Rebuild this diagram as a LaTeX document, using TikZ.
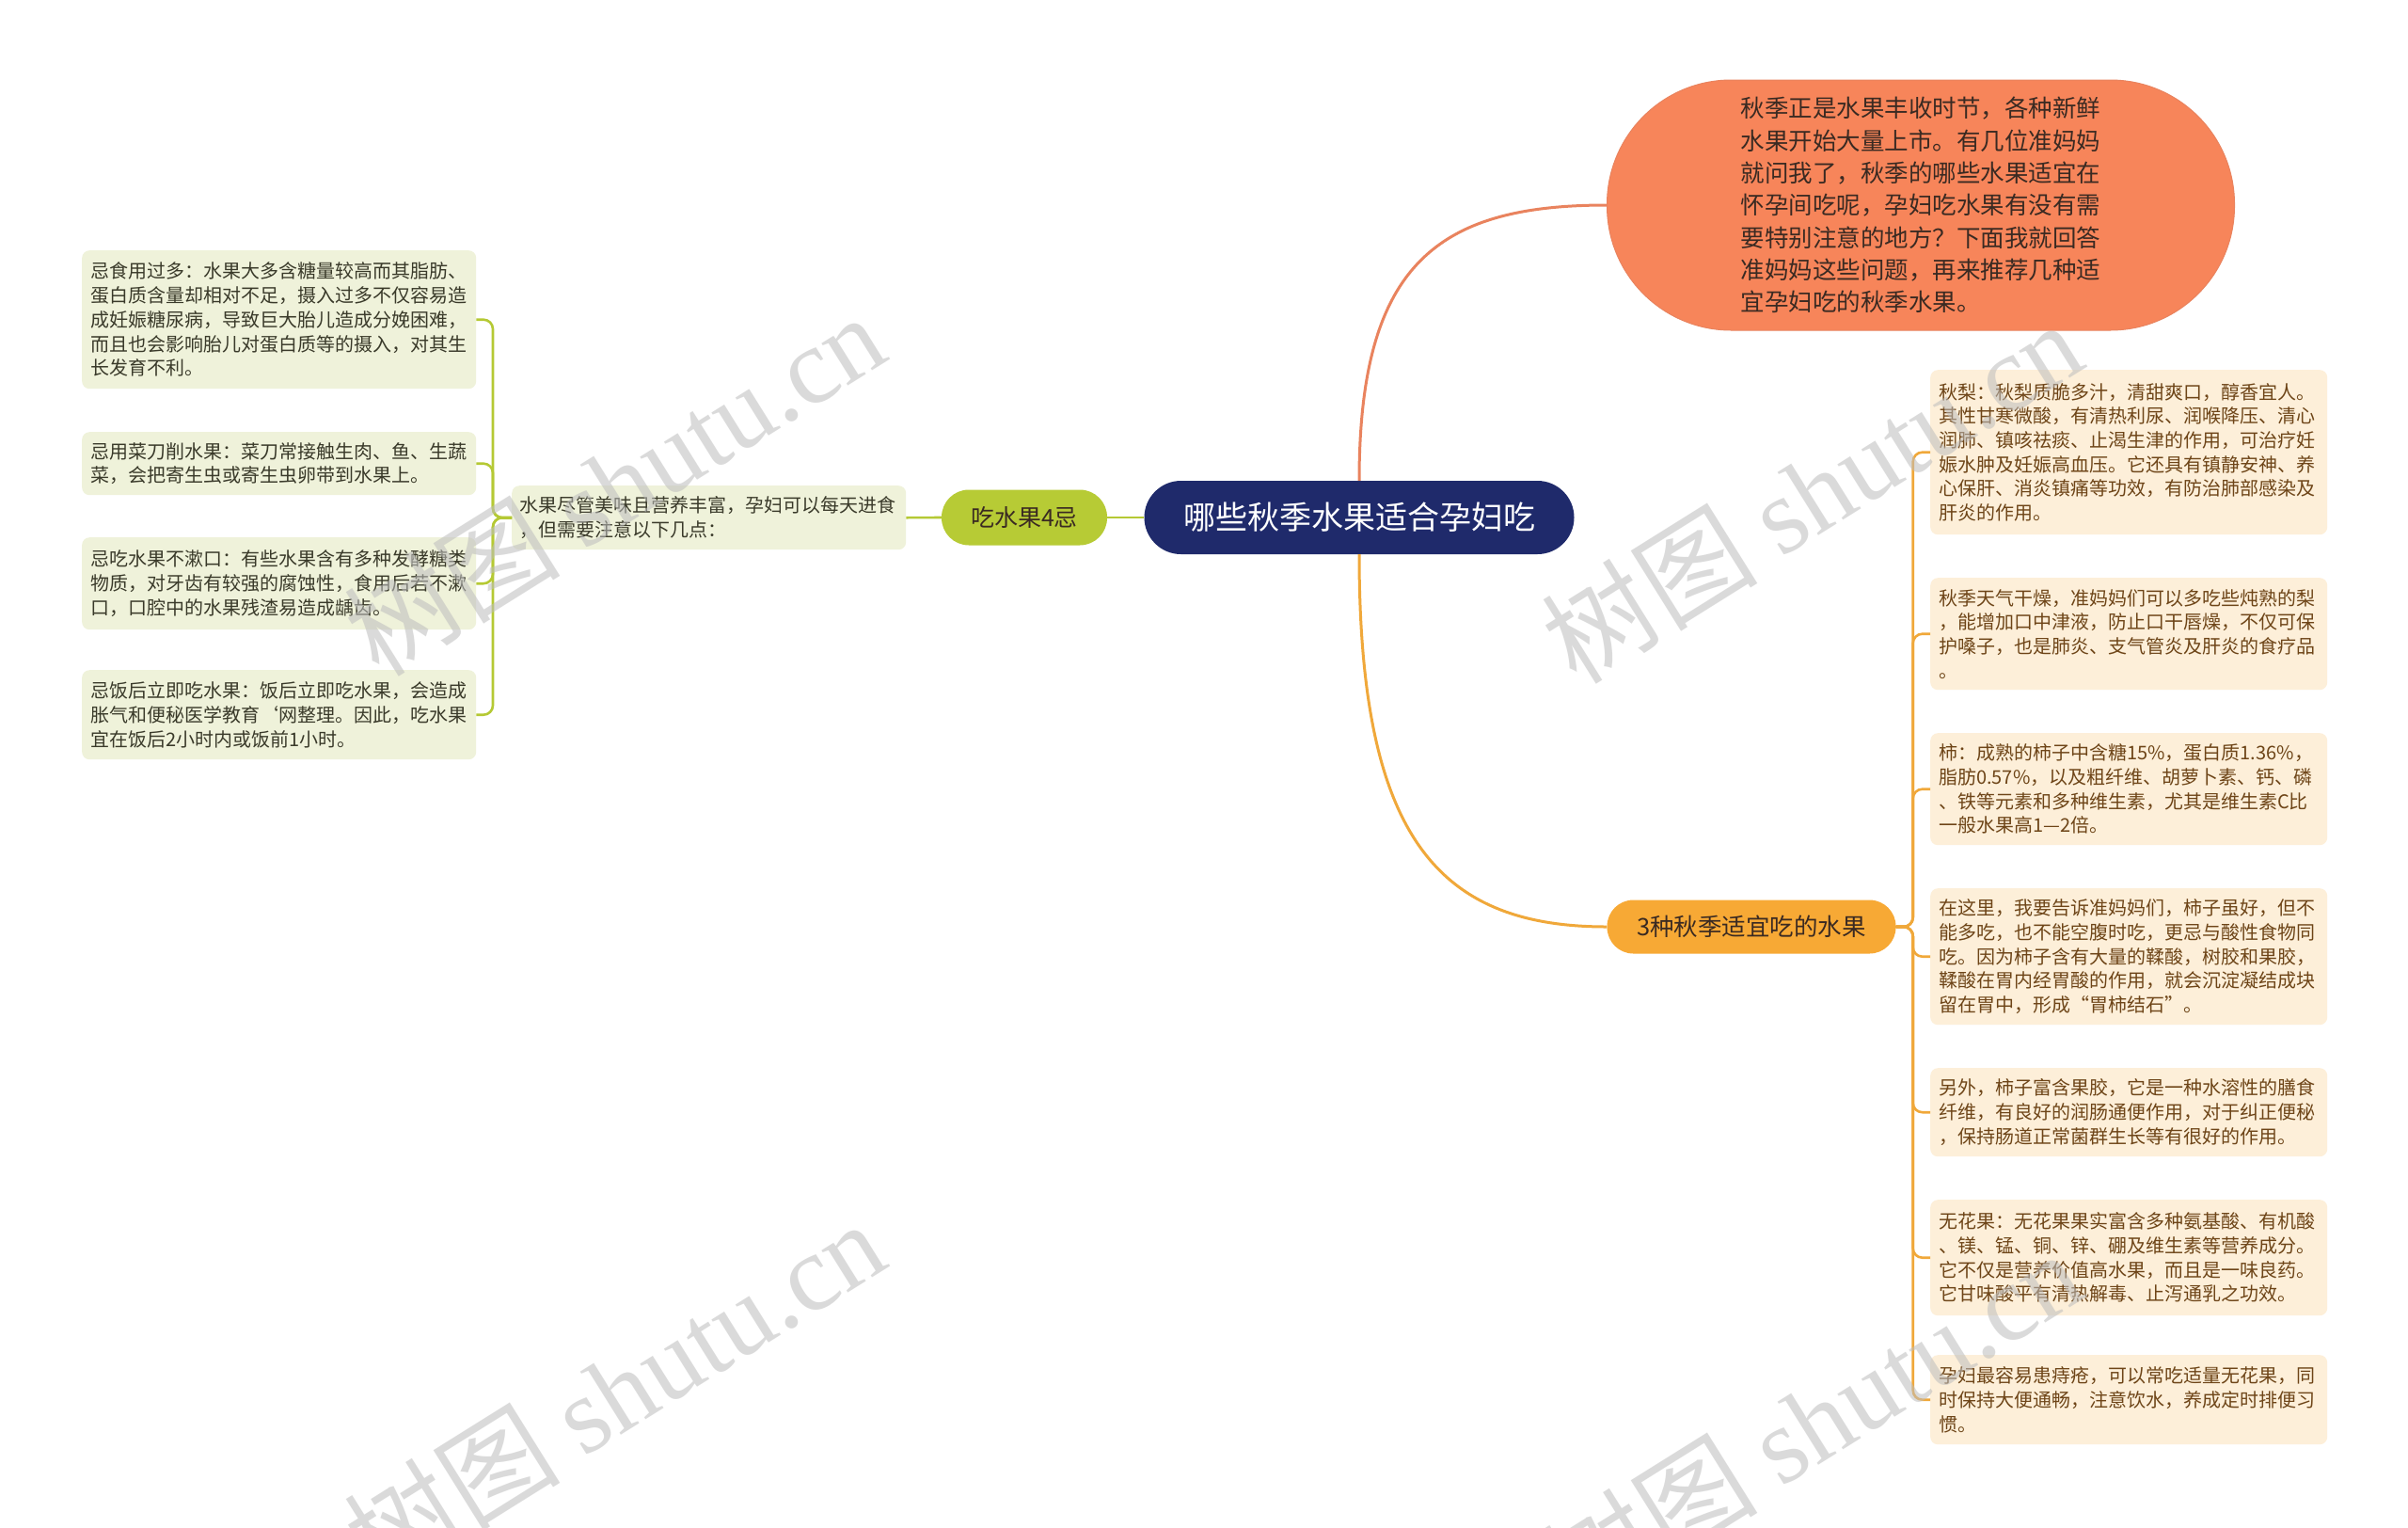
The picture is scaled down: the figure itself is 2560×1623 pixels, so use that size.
\documentclass[tikz,border=0pt]{standalone}
\usepackage{fontspec}
\setmainfont{Noto Sans CJK SC}
\newfontfamily\wmlatin{Liberation Serif}
\definecolor{navy}{HTML}{1F2A6B}
\definecolor{topfill}{HTML}{F7855A}
\definecolor{topline}{HTML}{E9835E}
\definecolor{greenfill}{HTML}{B7CB35}
\definecolor{greenline}{HTML}{B5C934}
\definecolor{amberfill}{HTML}{F7A935}
\definecolor{amberline}{HTML}{F0A83A}
\definecolor{lfill}{HTML}{EFF2DA}
\definecolor{ltext}{HTML}{3A3A2A}
\definecolor{rfill}{HTML}{FDEFD9}
\definecolor{rtext}{HTML}{6E4518}
\definecolor{darktext}{HTML}{3A2A22}
\definecolor{wmgray}{HTML}{BDBDBD}
\begin{document}
\begin{tikzpicture}[x=1pt,y=-1pt,
  lbox/.style={fill=lfill, text=ltext, rounded corners=8, anchor=north west, align=left,
    text width=401pt, inner xsep=9pt, inner ysep=0pt, font=\fontsize{20}{25.7}\selectfont},
  rbox/.style={fill=rfill, text=rtext, rounded corners=8, anchor=north west, align=left,
    text width=404pt, inner xsep=9pt, inner ysep=0pt, font=\fontsize{20}{25.7}\selectfont},
  gline/.style={draw=greenline, line width=2.6pt},
  aline/.style={draw=amberline, line width=2.6pt},
  wm/.style={text=wmgray, opacity=0.55, font=\fontsize{115}{120}\selectfont, inner sep=0pt}
]
\useasboundingbox (0,0) rectangle (2560,1623);
\fill[white] (0,0) rectangle (2560,1623);

% central
\node[fill=navy, text=white, rounded corners=39, minimum width=457pt, minimum height=78pt,
  inner sep=0pt, font=\fontsize{34}{36}\selectfont] (C) at (1445,550) {哪些秋季水果适合孕妇吃};

% top orange node
\node[fill=topfill, draw=topline, line width=1pt, text=darktext, rounded corners=132,
  minimum width=667pt, minimum height=266pt, inner sep=0pt, align=left,
  font=\fontsize{25.5}{34.3}\selectfont] (O) at (2042,218)
  {秋季正是水果丰收时节，各种新鲜\\水果开始大量上市。有几位准妈妈\\就问我了，秋季的哪些水果适宜在\\怀孕间吃呢，孕妇吃水果有没有需\\要特别注意的地方？下面我就回答\\准妈妈这些问题，再来推荐几种适\\宜孕妇吃的秋季水果。};

% left branch
\node[fill=greenfill, text=darktext, rounded corners=29, minimum width=176pt, minimum height=59pt,
  inner sep=0pt, font=\fontsize{25}{28}\selectfont] (G) at (1089,550) {吃水果4忌};
\node[lbox, text width=403pt, inner xsep=8pt, minimum height=68pt] (M) at (544,516)
  {水果尽管美味且营养丰富，孕妇可以每天进食\\，但需要注意以下几点：};

\node[lbox, minimum height=147pt] (L1) at (87,266)
  {忌食用过多：水果大多含糖量较高而其脂肪、\\蛋白质含量却相对不足，摄入过多不仅容易造\\成妊娠糖尿病，导致巨大胎儿造成分娩困难，\\而且也会影响胎儿对蛋白质等的摄入，对其生\\长发育不利。};
\node[lbox, minimum height=67pt] (L2) at (87,459)
  {忌用菜刀削水果：菜刀常接触生肉、鱼、生蔬\\菜，会把寄生虫或寄生虫卵带到水果上。};
\node[lbox, minimum height=98pt] (L3) at (87,571)
  {忌吃水果不漱口：有些水果含有多种发酵糖类\\物质，对牙齿有较强的腐蚀性，食用后若不漱\\口，口腔中的水果残渣易造成龋齿。};
\node[lbox, minimum height=95pt] (L4) at (87,712)
  {忌饭后立即吃水果：饭后立即吃水果，会造成\\胀气和便秘医学教育\symbol{96}网整理。因此，吃水果\\宜在饭后2小时内或饭前1小时。};

% right branch
\node[fill=amberfill, text=darktext, rounded corners=28, minimum width=307pt, minimum height=57pt,
  inner sep=0pt, font=\fontsize{25.5}{28}\selectfont] (T) at (1862,985) {3种秋季适宜吃的水果};

\node[rbox, minimum height=175pt] (R1) at (2052,393)
  {秋梨：秋梨质脆多汁，清甜爽口，醇香宜人。\\其性甘寒微酸，有清热利尿、润喉降压、清心\\润肺、镇咳祛痰、止渴生津的作用，可治疗妊\\娠水肿及妊娠高血压。它还具有镇静安神、养\\心保肝、消炎镇痛等功效，有防治肺部感染及\\肝炎的作用。};
\node[rbox, minimum height=119pt] (R2) at (2052,614)
  {秋季天气干燥，准妈妈们可以多吃些炖熟的梨\\，能增加口中津液，防止口干唇燥，不仅可保\\护嗓子，也是肺炎、支气管炎及肝炎的食疗品\\。};
\node[rbox, minimum height=119pt] (R3) at (2052,779)
  {柿：成熟的柿子中含糖15\%，蛋白质1.36\%，\\脂肪0.57\%，以及粗纤维、胡萝卜素、钙、磷\\、铁等元素和多种维生素，尤其是维生素C比\\一般水果高1—2倍。};
\node[rbox, minimum height=145pt] (R4) at (2052,944)
  {在这里，我要告诉准妈妈们，柿子虽好，但不\\能多吃，也不能空腹时吃，更忌与酸性食物同\\吃。因为柿子含有大量的鞣酸，树胶和果胶，\\鞣酸在胃内经胃酸的作用，就会沉淀凝结成块\\留在胃中，形成“胃柿结石”。};
\node[rbox, minimum height=94pt] (R5) at (2052,1135)
  {另外，柿子富含果胶，它是一种水溶性的膳食\\纤维，有良好的润肠通便作用，对于纠正便秘\\，保持肠道正常菌群生长等有很好的作用。};
\node[rbox, minimum height=123pt] (R6) at (2052,1275)
  {无花果：无花果果实富含多种氨基酸、有机酸\\、镁、锰、铜、锌、硼及维生素等营养成分。\\它不仅是营养价值高水果，而且是一味良药。\\它甘味酸平有清热解毒、止泻通乳之功效。};
\node[rbox, minimum height=95pt] (R7) at (2052,1440)
  {孕妇最容易患痔疮，可以常吃适量无花果，同\\时保持大便通畅，注意饮水，养成定时排便习\\惯。};

% connectors
\draw[draw=topline, line width=3pt] (C.north) .. controls +(0,-230) and +(-180,0) .. (O.west);
\draw[draw=amberline, line width=3pt] (C.south) .. controls +(0,300) and +(-180,0) .. (T.west);
\draw[gline] (C.west) -- (G.east);
\draw[gline] (G.west) -- (M.east);
\foreach \n in {L1,L2,L3,L4}
  \draw[gline, rounded corners=10] (M.west) -- ++(-20,0) |- (\n.east);
\foreach \n in {R1,R2,R3,R4,R5,R6,R7}
  \draw[aline, rounded corners=10] (T.east) -- ++(18,0) |- (\n.west);

% watermarks
\node[wm, rotate=32] (W1) at (653,514) {树图 {\wmlatin shutu.cn}};
\node[wm, rotate=32] (W2) at (1926,522) {树图 {\wmlatin shutu.cn}};
\node[wm, rotate=32] (W3) at (653,1478) {树图 {\wmlatin shutu.cn}};
\node[wm, rotate=32] (W4) at (1926,1510) {树图 {\wmlatin shutu.cn}};
\end{tikzpicture}
\end{document}
